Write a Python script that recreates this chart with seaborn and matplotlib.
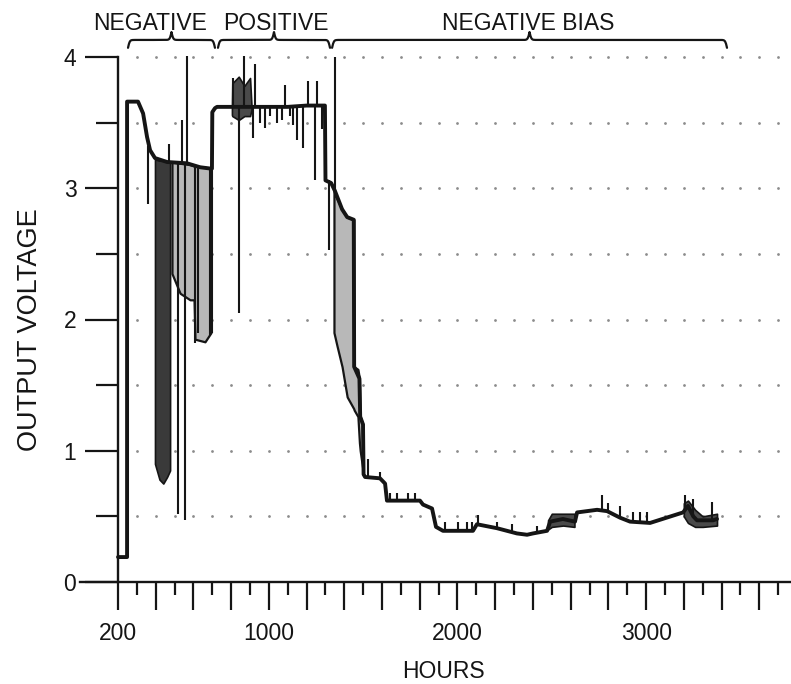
import numpy as np
import pandas as pd
import matplotlib
matplotlib.use("Agg")
import matplotlib.pyplot as plt
from matplotlib.ticker import FixedLocator, FixedFormatter
import seaborn as sns

# ---------------- data ----------------
main_hours = [200, 248, 248, 306, 333, 354, 370, 396, 460, 566, 635, 690, 698, 700,
              714, 725, 804, 910, 1000, 1100, 1200, 1297, 1300, 1330,
              1350, 1388, 1415, 1450, 1452, 1480, 1484, 1499, 1502, 1510, 1589, 1616,
              1626, 1801, 1817, 1865, 1886, 1923, 2082, 2103, 2209, 2315, 2369, 2400,
              2475, 2491, 2559, 2623, 2634, 2740, 2793, 2862, 2915, 3021, 3196, 3222,
              3250, 3270, 3355, 3376]
main_volts = [0.19, 0.19, 3.66, 3.66, 3.57, 3.39, 3.29, 3.23, 3.20, 3.19, 3.16, 3.15, 3.15, 3.58,
              3.61, 3.62, 3.62, 3.62, 3.62, 3.62, 3.63, 3.63, 3.06, 3.04,
              2.98, 2.84, 2.78, 2.76, 1.64, 1.55, 1.26, 1.20, 0.82, 0.80, 0.79, 0.75,
              0.62, 0.62, 0.59, 0.56, 0.42, 0.39, 0.39, 0.44, 0.41, 0.37, 0.36, 0.37,
              0.39, 0.46, 0.48, 0.46, 0.53, 0.55, 0.54, 0.49, 0.46, 0.45, 0.53, 0.58,
              0.50, 0.47, 0.47, 0.48]

# spikes: hour, low end, high end
spike_hours = [359, 518, 555, 540, 566, 470, 610, 625, 690, 698,
               810, 842, 868, 916, 926, 953, 979, 1006, 1043, 1070, 1085, 1112, 1127,
               1149, 1181, 1207, 1245, 1255, 1280,
               1319, 1350,
               1526, 1589, 1642, 1679, 1738, 1775, 1934, 2003, 2050, 2077, 2109, 2209,
               2289, 2422, 2766, 2798, 2862, 2931, 2968, 3005, 3206, 3249, 3349]
spike_low = [2.88, 0.52, 0.47, 3.20, 3.20, 3.20, 1.82, 1.90, 1.88, 1.90,
             3.62, 2.05, 3.62, 3.38, 3.62, 3.50, 3.46, 3.55, 3.50, 3.52, 3.62, 3.55, 3.48,
             3.37, 3.31, 3.62, 3.06, 3.62, 3.45,
             2.53, 2.98,
             0.80, 0.79, 0.62, 0.62, 0.62, 0.62, 0.39, 0.39, 0.39, 0.39, 0.44, 0.41,
             0.38, 0.37, 0.55, 0.54, 0.49, 0.46, 0.45, 0.45, 0.53, 0.50, 0.47]
spike_high = [3.32, 3.20, 3.20, 3.52, 4.01, 3.34, 3.17, 3.17, 3.15, 3.58,
              3.84, 3.62, 4.01, 3.62, 3.95, 3.62, 3.62, 3.62, 3.62, 3.62, 3.79, 3.62, 3.62,
              3.62, 3.62, 3.82, 3.62, 3.82, 3.62,
              3.06, 4.00,
              0.94, 0.84, 0.68, 0.68, 0.68, 0.68, 0.46, 0.46, 0.46, 0.46, 0.51, 0.46,
              0.44, 0.43, 0.66, 0.60, 0.58, 0.53, 0.53, 0.53, 0.66, 0.63, 0.61]

# noisy bands: dense dark block, speckled gray bands
dense_hours = [396, 420, 440, 460, 476]
dense_low = [0.90, 0.78, 0.75, 0.80, 0.85]
dense_high = [3.22, 3.21, 3.21, 3.20, 3.20]

neg_band_hours = [486, 529, 582, 603, 608, 661, 693]
neg_band_low = [2.35, 2.20, 2.15, 2.15, 1.85, 1.83, 1.90]
neg_band_high = [3.20, 3.19, 3.18, 3.17, 3.17, 3.16, 3.15]

pos_band_hours = [804, 806, 840, 870, 900, 908]
pos_band_low = [3.56, 3.55, 3.52, 3.55, 3.55, 3.60]
pos_band_high = [3.62, 3.80, 3.85, 3.78, 3.84, 3.62]

fall_band_hours = [1345, 1361, 1388, 1415, 1450, 1452, 1472, 1480, 1484, 1499]
fall_band_low = [1.90, 1.80, 1.64, 1.41, 1.32, 1.31, 1.26, 1.06, 1.00, 0.85]
fall_band_high = [2.98, 2.92, 2.84, 2.78, 2.76, 1.64, 1.62, 1.55, 1.26, 1.20]

low_band1_hours = [2480, 2500, 2560, 2620]
low_band1_low = [0.40, 0.42, 0.43, 0.42]
low_band1_high = [0.47, 0.52, 0.52, 0.52]

low_band2_hours = [3200, 3222, 3260, 3300, 3376]
low_band2_low = [0.50, 0.45, 0.42, 0.42, 0.43]
low_band2_high = [0.60, 0.62, 0.55, 0.50, 0.52]

period_labels = ["NEGATIVE", "POSITIVE", "NEGATIVE BIAS"]
period_start = [253, 730, 1335]
period_end = [714, 1324, 3429]

x_tick_labels = ["200", "1000", "2000", "3000"]
y_tick_labels = ["0", "1", "2", "3", "4"]

# ---------------- layout ----------------
W, H = 791, 684
sns.set_theme(style="white")
plt.rcParams["font.family"] = ["Liberation Sans", "DejaVu Sans"]

fig = plt.figure(figsize=(W / 100, H / 100), dpi=100)
x_left_px, x_right_px = 80.3, 790.0
y_bottom_px, y_top_px = 582.0, 4.5
ax = fig.add_axes([x_left_px / W, 1 - y_bottom_px / H,
                   (x_right_px - x_left_px) / W, (y_bottom_px - y_top_px) / H])
ax.set_xlim(0, 3763)
ax.set_ylim(0, 4.4)
ax.set_facecolor("white")

ink = "#151515"

# dotted grid
gx, gy = np.meshgrid(np.arange(300, 3800, 100), np.arange(0.5, 4.01, 0.5))
ax.scatter(gx.ravel(), gy.ravel(), s=4, color="#8c8c8c", linewidths=0, zorder=1)

# bands
ax.fill_between(dense_hours, dense_low, dense_high, color="#3a3a3a", lw=1.2,
                edgecolor=ink, zorder=2)
for hx, lo, hi in [(neg_band_hours, neg_band_low, neg_band_high),
                   (fall_band_hours, fall_band_low, fall_band_high)]:
    ax.fill_between(hx, lo, hi, facecolor="#b8b8b8", edgecolor=ink, lw=1.6, zorder=2)
for hx, lo, hi in [(pos_band_hours, pos_band_low, pos_band_high),
                   (low_band1_hours, low_band1_low, low_band1_high),
                   (low_band2_hours, low_band2_low, low_band2_high)]:
    ax.fill_between(hx, lo, hi, facecolor="#4a4a4a", edgecolor=ink, lw=1.2, zorder=2)

# spikes
ax.vlines(spike_hours, spike_low, spike_high, color=ink, lw=1.5, zorder=3)

# main trace
df = pd.DataFrame({"hours": main_hours, "volts": main_volts})
sns.lineplot(data=df, x="hours", y="volts", sort=False, estimator=None,
             color=ink, lw=2.8, ax=ax, zorder=4)

# braces + period labels
label_x = [370, 1038, 2374]
for name, x0, x1, lx in zip(period_labels, period_start, period_end, label_x):
    xs = np.linspace(x0, x1, 401)
    half = xs[:201]
    beta = 0.22
    yb = 1 / (1 + np.exp(-beta * (half - half[0]))) + 1 / (1 + np.exp(-beta * (half - half[-1])))
    yb = np.concatenate([yb, yb[-2::-1]])
    ax.plot(xs, 4.07 + (yb - 0.5) * 0.12, color=ink, lw=1.6, clip_on=False)
    ax.text(lx, 4.255, name, ha="center", va="center", fontsize=16.5, color=ink)

# axes / spines
for s in ["top", "right"]:
    ax.spines[s].set_visible(False)
ax.spines["left"].set_position(("data", 200))
ax.spines["left"].set_bounds(0, 4)
for s in ["left", "bottom"]:
    ax.spines[s].set_color(ink)
    ax.spines[s].set_linewidth(1.7)

ax.xaxis.set_major_locator(FixedLocator(np.arange(200, 3700, 200)))
major_lbls = ["" for _ in np.arange(200, 3700, 200)]
for t in x_tick_labels:
    major_lbls[(int(t) - 200) // 200] = t
ax.xaxis.set_major_formatter(FixedFormatter(major_lbls))
ax.xaxis.set_minor_locator(FixedLocator(np.arange(300, 3800, 200)))
ax.yaxis.set_major_locator(FixedLocator([0, 1, 2, 3, 4]))
ax.yaxis.set_major_formatter(FixedFormatter(y_tick_labels))
ax.yaxis.set_minor_locator(FixedLocator([0.5, 1.5, 2.5, 3.5]))

ax.tick_params(axis="x", which="major", direction="out", length=20, width=1.6,
               color=ink, labelsize=16.5, labelcolor=ink, pad=9, bottom=True)
ax.tick_params(axis="x", which="minor", direction="out", length=9.5, width=1.6,
               color=ink, bottom=True)
ax.tick_params(axis="y", which="major", direction="out", length=24, width=1.6,
               color=ink, labelsize=16.5, labelcolor=ink, pad=6, left=True)
ax.tick_params(axis="y", which="minor", direction="out", length=16, width=1.6,
               color=ink, left=True)
ax.set_xlabel("")
ax.set_ylabel("")
ax.grid(False)

fig.text(443 / W, 1 - 672 / H, "HOURS", ha="center", va="center", fontsize=16.5, color=ink)
fig.text(30 / W, 1 - 330 / H, "OUTPUT VOLTAGE", ha="center", va="center",
         rotation=90, fontsize=19.5, color=ink)

fig.savefig("out.png", dpi=100, facecolor="white")
